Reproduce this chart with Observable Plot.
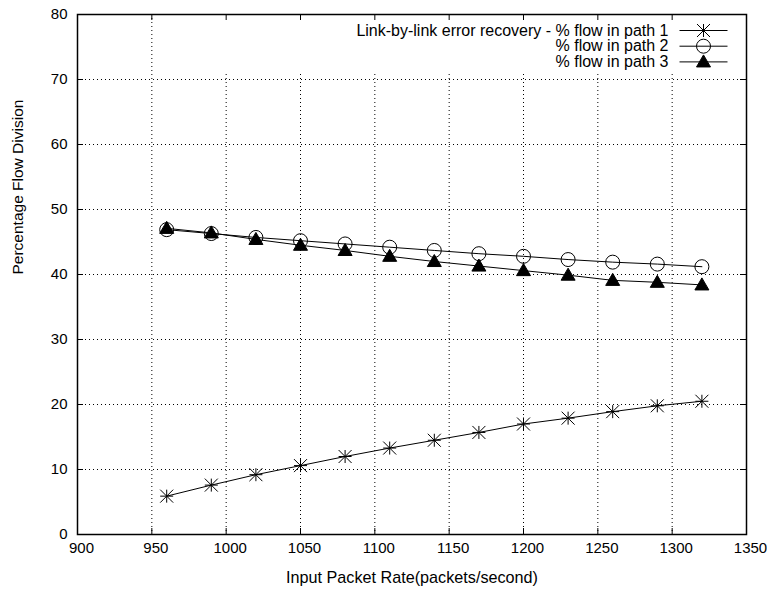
<!DOCTYPE html>
<html><head><meta charset="utf-8">
<script src="https://cdn.jsdelivr.net/npm/d3@7"></script>
<script src="https://cdn.jsdelivr.net/npm/@observablehq/plot@0.6"></script>
<style>body{margin:0;background:#fff}</style>
</head><body><div id="chart"></div>
<script>
const rates = [960, 990, 1020, 1050, 1080, 1110, 1140, 1170, 1200, 1230, 1260, 1290, 1320];
const path1 = [5.9, 7.6, 9.2, 10.6, 12.0, 13.3, 14.5, 15.7, 17.0, 17.9, 18.9, 19.8, 20.5];
const path2 = [46.9, 46.3, 45.7, 45.2, 44.7, 44.2, 43.7, 43.2, 42.8, 42.3, 41.9, 41.6, 41.2];
const path3 = [47.1, 46.4, 45.4, 44.5, 43.7, 42.8, 42.0, 41.3, 40.6, 39.9, 39.1, 38.8, 38.4];
const seriesNames = ["Link-by-link error recovery - % flow in path 1", "% flow in path 2", "% flow in path 3"];
const xTicks = [900, 950, 1000, 1050, 1100, 1150, 1200, 1250, 1300, 1350];
const yTicks = [0, 10, 20, 30, 40, 50, 60, 70, 80];
const xLabel = "Input Packet Rate(packets/second)";
const yLabel = "Percentage Flow Division";

const W = 767, H = 590, mL = 77, mR = 21, mT = 14, mB = 56;
const iW = W - mL - mR, iH = H - mT - mB, tickLen = 6;

const asterisk = {draw(c, size) { const s = Math.sqrt(size / Math.PI);
  c.moveTo(-s, 0); c.lineTo(s, 0); c.moveTo(0, -s); c.lineTo(0, s);
  c.moveTo(-s, -s); c.lineTo(s, s); c.moveTo(-s, s); c.lineTo(s, -s); }};
const triangle = {draw(c, size) { const s = Math.sqrt(size / Math.PI);
  c.moveTo(0, -s); c.lineTo(s, s * 0.72); c.lineTo(-s, s * 0.72); c.closePath(); }};
const hline = {draw(c, size) { const s = Math.sqrt(size / Math.PI);
  c.moveTo(-s, 0); c.lineTo(s, 0); }};

const seriesVals = [path1, path2, path3];
const symStyles = [
  {symbol: asterisk, r: 6.5, stroke: "black", fill: "none", strokeWidth: 1},
  {symbol: "circle", r: 7, stroke: "black", fill: "none", strokeWidth: 1},
  {symbol: triangle, r: 7, stroke: "black", fill: "black", strokeWidth: 1}
];

const marks = [
  Plot.gridX(xTicks.slice(1, -1), {stroke: "black", strokeOpacity: 1, strokeDasharray: "1,3", strokeWidth: 1}),
  Plot.gridY(yTicks.slice(1, -1), {stroke: "black", strokeOpacity: 1, strokeDasharray: "1,3", strokeWidth: 1}),
  Plot.frame({fill: "white", stroke: null, insetLeft: 108, insetBottom: 463, insetTop: 1, insetRight: 1}),
  Plot.tickX(xTicks, {x: d => d, insetTop: iH - tickLen, stroke: "black"}),
  Plot.tickX(xTicks, {x: d => d, insetBottom: iH - tickLen, stroke: "black"}),
  Plot.tickY(yTicks, {y: d => d, insetRight: iW - tickLen, stroke: "black"}),
  Plot.tickY(yTicks, {y: d => d, insetLeft: iW - tickLen, stroke: "black"}),
  Plot.frame({stroke: "black", strokeWidth: 1.5}),
  Plot.axisX({ticks: xTicks, tickSize: 0, tickPadding: 8, dx: 4, label: null, tickFormat: d => String(d), fontSize: 15}),
  Plot.axisY({ticks: yTicks, tickSize: 0, tickPadding: 10, label: null, tickFormat: d => String(d), fontSize: 15}),
  Plot.text([xLabel], {frameAnchor: "bottom", text: d => d, dy: 43, lineAnchor: "middle", fontSize: 16.2}),
  Plot.text([yLabel], {frameAnchor: "left", text: d => d, dx: -59, rotate: -90, lineAnchor: "middle", fontSize: 15.5})
];

seriesVals.forEach((vals, i) => {
  const pts = rates.map((r, j) => ({x: r, y: vals[j]}));
  marks.push(Plot.line(pts, {x: "x", y: "y", stroke: "black", strokeWidth: 1}));
  marks.push(Plot.dot(pts, {x: "x", y: "y", ...symStyles[i]}));
  const dy = 16 + i * 15.7;
  marks.push(Plot.text([seriesNames[i]], {frameAnchor: "top-right", text: d => d, textAnchor: "end", lineAnchor: "middle", dx: -78, dy, fontSize: 16}));
  marks.push(Plot.dot([0], {frameAnchor: "top-right", dx: -43, dy, symbol: hline, r: 24, stroke: "black", fill: "none", strokeWidth: 1}));
  marks.push(Plot.dot([0], {frameAnchor: "top-right", dx: -43, dy, ...symStyles[i]}));
});

const chart = Plot.plot({
  width: W, height: H,
  marginLeft: mL, marginRight: mR, marginTop: mT, marginBottom: mB,
  x: {domain: [900, 1350]},
  y: {domain: [0, 80]},
  style: {fontFamily: "'Liberation Sans', Arial, Helvetica, sans-serif", fontSize: "15px", background: "white", color: "black"},
  marks
});
document.getElementById("chart").append(chart);
</script>
</body></html>
